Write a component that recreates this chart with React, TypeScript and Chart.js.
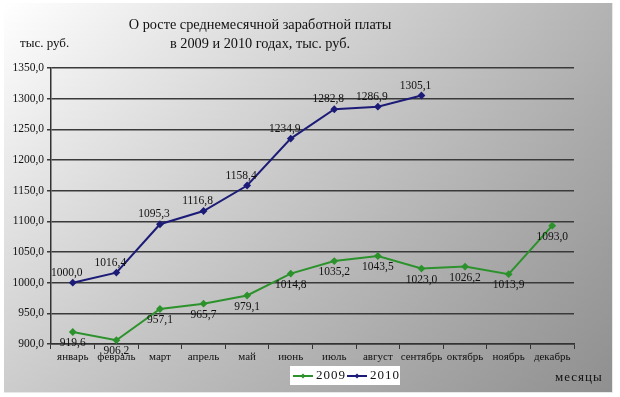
import React, { useEffect, useRef } from "react";
import { Chart, registerables } from "chart.js";

Chart.register(...registerables);

const months = ["январь", "февраль", "март", "апрель", "май", "июнь", "июль", "август", "сентябрь", "октябрь", "ноябрь", "декабрь"];
const values2009 = [919.6, 906.2, 957.1, 965.7, 979.1, 1014.8, 1035.2, 1043.5, 1023.0, 1026.2, 1013.9, 1093.0];
const values2010 = [1000.0, 1016.4, 1095.3, 1116.8, 1158.4, 1234.9, 1282.8, 1286.9, 1305.1];
const seriesNames = ["2009", "2010"];
const titleLines = ["О росте среднемесячной заработной платы", "в 2009 и 2010 годах, тыс. руб."];
const yUnit = "тыс. руб.";
const xUnit = "месяцы";
const yMin = 900;
const yMax = 1350;
const yStep = 50;

const GREEN = "#2c922c";
const NAVY = "#1c1c78";
const SERIF = "'Liberation Serif', 'Times New Roman', serif";

const fmt = (v: number) => v.toFixed(1).replace(".", ",");

const decorPlugin = {
  id: "decor",
  beforeDraw(chart: any) {
    const ctx = chart.ctx;
    const W = chart.width;
    const H = chart.height;
    ctx.save();
    ctx.fillStyle = "#ffffff";
    ctx.fillRect(0, 0, W, H);
    const x0 = 4, y0 = 3, x1 = 612, y1 = 392;
    const g1 = ctx.createLinearGradient(x0, 0, x1, 0);
    g1.addColorStop(0, "#ffffff");
    g1.addColorStop(1, "#b3b3b3");
    ctx.fillStyle = g1;
    ctx.fillRect(x0, y0, x1 - x0, y1 - y0);
    const g2 = ctx.createLinearGradient(0, y0, 0, y1);
    g2.addColorStop(0, "rgba(0,0,0,0)");
    g2.addColorStop(1, "rgba(0,0,0,0.2)");
    ctx.fillStyle = g2;
    ctx.fillRect(x0, y0, x1 - x0, y1 - y0);
    ctx.strokeStyle = "rgba(230,230,230,0.9)";
    ctx.lineWidth = 1;
    ctx.beginPath();
    ctx.moveTo(x1 + 0.5, y0);
    ctx.lineTo(x1 + 0.5, y1 + 0.5);
    ctx.lineTo(x0, y1 + 0.5);
    ctx.stroke();
    ctx.restore();
  },
  afterDatasetsDraw(chart: any) {
    const ctx = chart.ctx;
    ctx.save();
    ctx.fillStyle = "#111111";
    ctx.font = `11.5px ${SERIF}`;
    ctx.textAlign = "center";
    ctx.textBaseline = "middle";
    const m0 = chart.getDatasetMeta(0);
    m0.data.forEach((pt: any, i: number) => {
      ctx.fillText(fmt(values2009[i]), pt.x, pt.y + 11);
    });
    const m1 = chart.getDatasetMeta(1);
    m1.data.forEach((pt: any, i: number) => {
      ctx.fillText(fmt(values2010[i]), pt.x - 6, pt.y - 10);
    });
    ctx.restore();
  },
  afterDraw(chart: any) {
    const ctx = chart.ctx;
    ctx.save();
    ctx.fillStyle = "#111111";
    ctx.textBaseline = "middle";
    ctx.textAlign = "center";
    ctx.font = `14.3px ${SERIF}`;
    ctx.fillText(titleLines[0], 260, 25);
    ctx.fillText(titleLines[1], 260, 44);
    ctx.textAlign = "left";
    ctx.font = `13px ${SERIF}`;
    ctx.fillText(yUnit, 20, 44);
    // legend
    const lx = 290, ly = 366, lw = 110, lh = 19;
    ctx.fillStyle = "#ffffff";
    ctx.fillRect(lx, ly, lw, lh);
    const items = [
      { name: seriesNames[0], color: GREEN, x: lx + 3 },
      { name: seriesNames[1], color: NAVY, x: lx + 57 },
    ];
    const cy = ly + lh / 2 + 0.5;
    (ctx as any).letterSpacing = "1px";
    items.forEach((it) => {
      ctx.strokeStyle = it.color;
      ctx.lineWidth = 2;
      ctx.beginPath();
      ctx.moveTo(it.x, cy);
      ctx.lineTo(it.x + 20, cy);
      ctx.stroke();
      ctx.fillStyle = it.color;
      ctx.beginPath();
      ctx.moveTo(it.x + 10, cy - 2.5);
      ctx.lineTo(it.x + 12.5, cy);
      ctx.lineTo(it.x + 10, cy + 2.5);
      ctx.lineTo(it.x + 7.5, cy);
      ctx.closePath();
      ctx.fill();
      ctx.fillStyle = "#111111";
      ctx.font = `13px ${SERIF}`;
      ctx.fillText(it.name, it.x + 23, cy);
    });
    ctx.fillText(xUnit, 555, 378);
    ctx.restore();
  },
};

export default function App() {
  const ref = useRef<HTMLCanvasElement | null>(null);
  useEffect(() => {
    if (!ref.current) return;
    const chart = new Chart(ref.current, {
      type: "line",
      data: {
        labels: months,
        datasets: [
          {
            label: seriesNames[0],
            data: values2009,
            borderColor: GREEN,
            backgroundColor: GREEN,
            borderWidth: 2,
            pointStyle: "rectRot",
            pointRadius: 2.5,
            tension: 0,
          },
          {
            label: seriesNames[1],
            data: values2010,
            borderColor: NAVY,
            backgroundColor: NAVY,
            borderWidth: 2,
            pointStyle: "rectRot",
            pointRadius: 2.5,
            tension: 0,
          },
        ],
      },
      options: {
        animation: false,
        responsive: false,
        devicePixelRatio: 1,
        layout: { padding: { left: 0, right: 46, top: 68, bottom: 28 } },
        plugins: {
          legend: { display: false },
          title: { display: false },
          tooltip: { enabled: false },
        },
        scales: {
          x: {
            type: "category",
            offset: true,
            afterFit: (s: any) => { s.height = 25; },
            grid: {
              offset: true,
              drawOnChartArea: false,
              drawTicks: true,
              tickLength: 5,
              color: "#333333",
              lineWidth: 1,
            },
            border: { display: true, color: "#333333", width: 1.5 },
            ticks: {
              color: "#111111",
              font: { family: SERIF, size: 11 },
              padding: 2,
              maxRotation: 0,
              autoSkip: false,
            },
          },
          y: {
            min: yMin,
            max: yMax,
            afterFit: (s: any) => { s.width = 51; },
            ticks: {
              stepSize: yStep,
              color: "#111111",
              font: { family: SERIF, size: 11.5 },
              padding: 3,
              callback: (v: any) => fmt(Number(v)),
            },
            grid: {
              color: "#3a3a3a",
              lineWidth: 1.5,
              tickLength: 4,
            },
            border: { display: true, color: "#333333", width: 1.5 },
          },
        },
      },
      plugins: [decorPlugin],
    });
    return () => chart.destroy();
  }, []);
  return (
    <div style={{ position: "fixed", left: 0, top: 0, width: 620, height: 397 }}>
      <canvas ref={ref} width={620} height={397} style={{ width: 620, height: 397, display: "block" }} />
    </div>
  );
}
